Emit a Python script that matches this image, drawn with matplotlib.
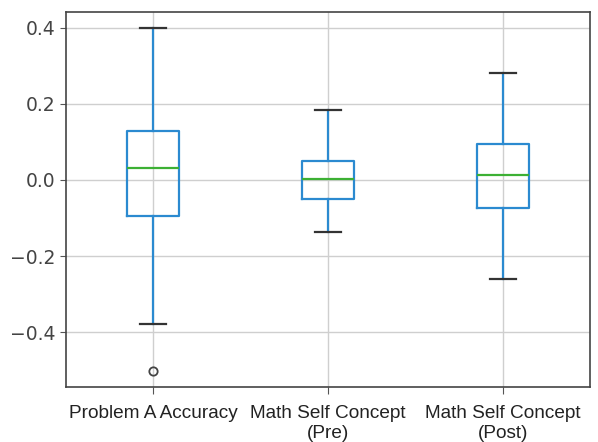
import matplotlib
matplotlib.use("Agg")
import matplotlib.pyplot as plt

labels = ["Problem A Accuracy", "Math Self Concept\n(Pre)", "Math Self Concept\n(Post)"]
whisker_low = [-0.378, -0.137, -0.260]
q1 = [-0.096, -0.050, -0.073]
median = [0.032, 0.003, 0.013]
q3 = [0.130, 0.050, 0.095]
whisker_high = [0.400, 0.185, 0.281]
outliers = [[-0.503], [], []]

stats = []
for i in range(len(labels)):
    stats.append(dict(label=labels[i], whislo=whisker_low[i], q1=q1[i], med=median[i],
                      q3=q3[i], whishi=whisker_high[i], fliers=outliers[i]))

fig = plt.figure(figsize=(5.98, 4.42), dpi=100)
ax = fig.add_axes([0.110, 0.124, 0.877, 0.849])

ax.bxp(stats, widths=0.3, showfliers=True,
       boxprops=dict(color="#2b8ad0", linewidth=1.6),
       whiskerprops=dict(color="#2b8ad0", linewidth=1.6),
       capprops=dict(color="#333333", linewidth=1.6),
       medianprops=dict(color="#3cb034", linewidth=1.6),
       flierprops=dict(marker="o", markerfacecolor="none", markeredgecolor="#444444",
                       markersize=6, markeredgewidth=1.3))

ax.set_ylim(-0.545, 0.442)
ax.set_xlim(0.5, 3.5)
ax.set_yticks([-0.4, -0.2, 0.0, 0.2, 0.4])
ax.grid(True, color="#cfcfcf", linewidth=1.0)
ax.set_axisbelow(True)
for s in ax.spines.values():
    s.set_color("#444444")
    s.set_linewidth(1.2)
ax.tick_params(axis="y", labelsize=13.5, colors="#555555", labelcolor="#444444", length=4)
ax.tick_params(axis="x", labelsize=13.7, colors="#555555", labelcolor="#222222", length=5, pad=8)
for t in ax.get_xticklabels():
    t.set_fontfamily("Liberation Sans")
    t.set_linespacing(1.2)

fig.savefig("out.png", dpi=100)
